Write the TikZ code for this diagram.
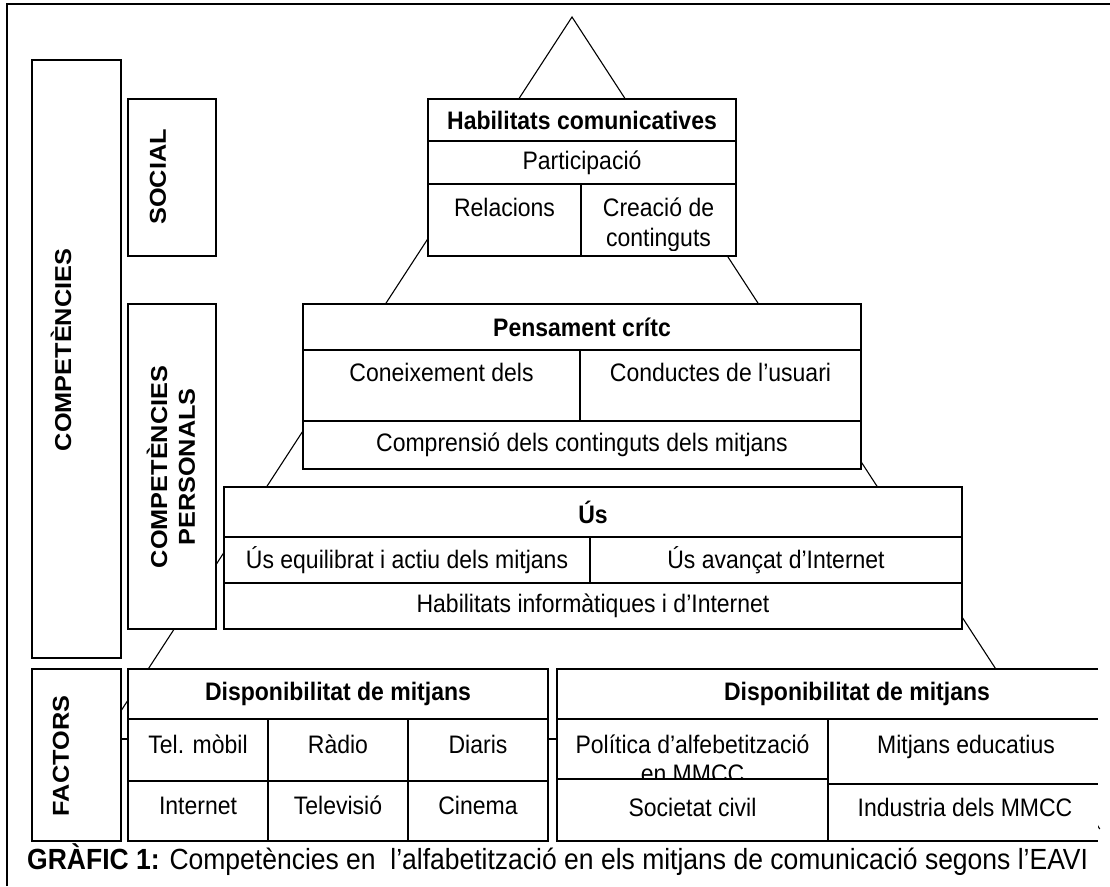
\documentclass[tikz,border=0pt]{standalone}
\usepackage{fontspec}
\usepackage{graphicx}
\setmainfont{Liberation Sans}
\newcommand\mycell[5]{\node[cell, minimum width={(#4)-(#2)}, minimum height={(#5)-(#3)}] (#1) at (#2,#3) {};}
\newcommand\Hs[1]{\scalebox{1}[1.1]{#1}}
\newcommand\Vs[1]{\scalebox{1.1}[1]{#1}}
\begin{document}
\begin{tikzpicture}[x=1pt,y=-1pt,
  cell/.style={draw, fill=white, inner sep=0pt, outer sep=0pt, anchor=north west, line width=1.5pt},
  txt/.style={font=\fontsize{23}{28}\selectfont, inner sep=0pt},
  btxt/.style={font=\fontsize{23}{28}\selectfont\bfseries, inner sep=0pt},
  tri/.style={line width=1.1pt},
  conn/.style={line width=1.1pt},
  rline/.style={line width=1.5pt},
  frame/.style={line width=2.6pt}
]
\useasboundingbox (0,0) rectangle (1110,886);
% outer frame (cropped)
\coordinate (fbl) at (7,886);
\coordinate (ftl) at (7,4);
\coordinate (ftr) at (1110,4);
\draw[frame] (fbl) -- (ftl) -- (ftr);
% pyramid
\coordinate (apex) at (572,17);
\coordinate (bl) at ({572-0.65*(760-17)},760);
\coordinate (br) at ({572+0.65*(829-17)},829);
\draw[tri] (bl) -- (apex) -- (br);
% left column boxes
\mycell{comp}{32}{60}{121}{658}
\mycell{soc}{128}{99}{216}{256}
\mycell{pers}{128}{304}{216}{629}
\mycell{fact}{32}{669}{121}{841}
\node[btxt, rotate=90] (tcomp) at (61,350) {\Vs{COMPETÈNCIES}};
\node[btxt, rotate=90] (tsoc) at (158,177) {\Vs{SOCIAL}};
\node[btxt, rotate=90] (tpers1) at (157,467) {\Vs{COMPETÈNCIES}};
\node[btxt, rotate=90] (tpers2) at (187,467) {\Vs{PERSONALS}};
\node[btxt, rotate=90] (tfact) at (61,756) {\Vs{FACTORS}};
% Habilitats comunicatives
\mycell{habA}{428}{99}{736}{141}
\mycell{habB}{428}{141}{736}{184}
\mycell{habC}{428}{184}{581}{256}
\mycell{habD}{581}{184}{736}{256}
\node[btxt] (thabA) at (habA) {\Hs{Habilitats comunicatives}};
\node[txt] (thabB) at (habB) {\Hs{Participació}};
\node[txt, anchor=base] (thabC) at (504.5,216) {\Hs{Relacions}};
\node[txt, anchor=base] (thabD1) at (658.5,216) {\Hs{Creació de}};
\begin{scope}
\clip (581,184) rectangle (736,250);
\node[txt, anchor=base] (thabD2) at (658.5,246) {\Hs{continguts}};
\end{scope}
% Pensament critic
\mycell{penA}{303}{304}{861}{350}
\mycell{penB}{303}{350}{580}{421}
\mycell{penC}{580}{350}{861}{421}
\mycell{penD}{303}{421}{861}{469}
\node[btxt] (tpenA) at (penA) {\Hs{Pensament crítc}};
\node[txt, anchor=base] (tpenB) at (441.5,381) {\Hs{Coneixement dels}};
\node[txt, anchor=base] (tpenC) at (720.5,381) {\Hs{Conductes de l’usuari}};
\node[txt] (tpenD) at (penD) {\Hs{Comprensió dels continguts dels mitjans}};
% Us
\mycell{usA}{224}{487}{962}{537}
\mycell{usB}{224}{537}{590}{583}
\mycell{usC}{590}{537}{962}{583}
\mycell{usD}{224}{583}{962}{629}
\node[btxt] (tusA) at (usA) {\Hs{Ús}};
\node[txt] (tusB) at (usB) {\Hs{Ús equilibrat i actiu dels mitjans}};
\node[txt] (tusC) at (usC) {\Hs{Ús avançat d’Internet}};
\node[txt] (tusD) at (usD) {\Hs{Habilitats informàtiques i d’Internet}};
% left Disponibilitat
\mycell{dlA}{128}{669}{548}{719}
\mycell{dl1}{128}{719}{268}{781}
\mycell{dl2}{268}{719}{408}{781}
\mycell{dl3}{408}{719}{548}{781}
\mycell{dl4}{128}{781}{268}{841}
\mycell{dl5}{268}{781}{408}{841}
\mycell{dl6}{408}{781}{548}{841}
\node[btxt] (tdlA) at (dlA) {\Hs{Disponibilitat de mitjans}};
\node[txt, anchor=base] (tdl1) at (198,753) {\Hs{Tel. mòbil}};
\node[txt, anchor=base] (tdl2) at (338,753) {\Hs{Ràdio}};
\node[txt, anchor=base] (tdl3) at (478,753) {\Hs{Diaris}};
\node[txt, anchor=base] (tdl4) at (198,814) {\Hs{Internet}};
\node[txt, anchor=base] (tdl5) at (338,814) {\Hs{Televisió}};
\node[txt, anchor=base] (tdl6) at (478,814) {\Hs{Cinema}};
% right Disponibilitat (cropped on the right)
\node[fill=white, inner sep=0pt, outer sep=0pt, anchor=north west, minimum width=541, minimum height=172] (dr) at (557,669) {};
\coordinate (drh1) at (557,719);
\coordinate (drh2) at (1098,719);
\coordinate (drm1) at (557,779);
\coordinate (drm2) at (828,779);
\coordinate (drm3) at (1098,784);
\coordinate (drv1) at (828,719);
\coordinate (drv2) at (828,841);
\draw[rline] (dr.north east) -- (dr.north west) -- (dr.south west) -- (dr.south east);
\draw[rline] (drh1) -- (drh2);
\draw[rline] (drm1) -- (drm2);
\draw[rline] (drm2 |- drm3) -- (drm3);
\draw[rline] (drv1) -- (drv2);
\node[btxt] (tdrA) at (857,694) {\Hs{Disponibilitat de mitjans}};
\begin{scope}
\clip (557,719) rectangle (828,779);
\node[txt, anchor=base] (tdr1) at (692.5,753) {\Hs{Política d’alfebetització}};
\node[txt, anchor=base] (tdr1b) at (692.5,782) {\Hs{en MMCC}};
\end{scope}
\node[txt, anchor=base] (tdr2) at (966,753) {\Hs{Mitjans educatius}};
\node[txt, anchor=base] (tdr3) at (692.5,816) {\Hs{Societat civil}};
\node[txt, anchor=base] (tdr4) at (965,816) {\Hs{Industria dels MMCC}};
% small connectors
\draw[conn] ([yshift=11pt]dl1.west) -- ([yshift=11pt]dl1.west -| fact.east);
\draw[conn] ([yshift=11pt]dl3.east) -- ([yshift=11pt]dl3.east -| dr.west);
% caption
\node[font=\fontsize{26.5}{31}\selectfont, inner sep=0pt, anchor=base west] (cap) at (27,869) {\Hs{\textbf{GRÀFIC 1:} Competències en\ \ l’alfabetització en els mitjans de comunicació segons l’EAVI}};
\end{tikzpicture}
\end{document}
